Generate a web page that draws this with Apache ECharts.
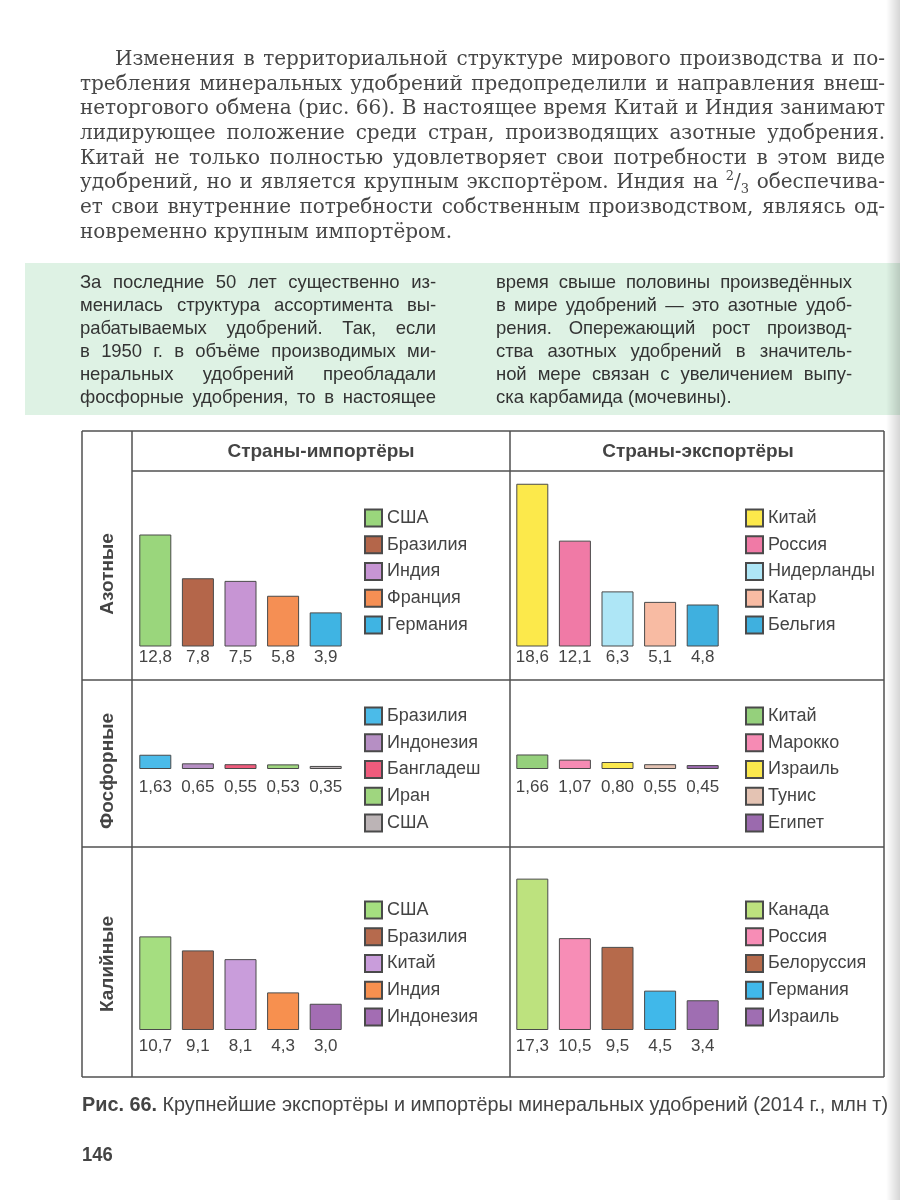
<!DOCTYPE html>
<html><head><meta charset="utf-8">
<script src="https://cdn.jsdelivr.net/npm/echarts@6/dist/echarts.min.js"></script>
<style>
html,body{margin:0;padding:0;background:#fff;}
body{width:900px;height:1200px;position:relative;overflow:hidden;}
#green{position:absolute;left:25px;top:263px;width:875px;height:152px;background:#def2e4;z-index:0;}
#chart{position:absolute;left:0;top:0;width:900px;height:1200px;z-index:1;}
.para{position:absolute;left:80px;top:46px;width:805px;font-family:'DejaVu Serif',serif;font-size:20px;color:#474747;z-index:2;}
.para div{height:24.7px;line-height:24.7px;text-align:justify;text-align-last:justify;}
.para div.first{margin-left:35px;}
.box{position:absolute;top:270px;width:356px;font-family:'Liberation Sans',Arial,sans-serif;font-size:18.5px;color:#333;z-index:2;}
.box div{height:23px;line-height:23px;text-align:justify;text-align-last:justify;}
.last{text-align-last:left !important;}
sup,sub{font-size:13px;line-height:0;}
</style></head>
<body>
<div id="green"></div>
<div id="chart"></div>
<div class="para">
<div class="first">Изменения в территориальной структуре мирового производства и по-</div>
<div>требления минеральных удобрений предопределили и направления внеш-</div>
<div>неторгового обмена (рис. 66). В настоящее время Китай и Индия занимают</div>
<div>лидирующее положение среди стран, производящих азотные удобрения.</div>
<div>Китай не только полностью удовлетворяет свои потребности в этом виде</div>
<div>удобрений, но и является крупным экспортёром. Индия на <sup>2</sup>/<sub>3</sub> обеспечива-</div>
<div>ет свои внутренние потребности собственным производством, являясь од-</div>
<div class="last">новременно крупным импортёром.</div>
</div>
<div class="box" style="left:80px;">
<div>За последние 50 лет существенно из-</div>
<div>менилась структура ассортимента вы-</div>
<div>рабатываемых удобрений. Так, если</div>
<div>в 1950 г. в объёме производимых ми-</div>
<div>неральных удобрений преобладали</div>
<div>фосфорные удобрения, то в настоящее</div>
</div>
<div class="box" style="left:496px;">
<div>время свыше половины произведённых</div>
<div>в мире удобрений — это азотные удоб-</div>
<div>рения. Опережающий рост производ-</div>
<div>ства азотных удобрений в значитель-</div>
<div>ной мере связан с увеличением выпу-</div>
<div class="last">ска карбамида (мочевины).</div>
</div>
<script>
// keep every printed line on one line: tighten letter-spacing where a line is too long
document.querySelectorAll('.para div, .box div').forEach(d => {
  const html = d.innerHTML;
  d.innerHTML = '<span style="white-space:nowrap">' + html + '</span>';
  const w = d.firstChild.getBoundingClientRect().width;
  const avail = d.clientWidth - 3;
  d.innerHTML = html;
  if (w > avail) {
    const n = d.textContent.length;
    d.style.letterSpacing = ((avail - w) / n) + 'px';
  }
});

// ---- data ----
const importerHeader = 'Страны-импортёры';
const exporterHeader = 'Страны-экспортёры';
const rowNames = ['Азотные', 'Фосфорные', 'Калийные'];

const nImpCountries = ['США', 'Бразилия', 'Индия', 'Франция', 'Германия'];
const nImpValues = [12.8, 7.8, 7.5, 5.8, 3.9];
const nExpCountries = ['Китай', 'Россия', 'Нидерланды', 'Катар', 'Бельгия'];
const nExpValues = [18.6, 12.1, 6.3, 5.1, 4.8];

const pImpCountries = ['Бразилия', 'Индонезия', 'Бангладеш', 'Иран', 'США'];
const pImpValues = [1.63, 0.65, 0.55, 0.53, 0.35];
const pExpCountries = ['Китай', 'Марокко', 'Израиль', 'Тунис', 'Египет'];
const pExpValues = [1.66, 1.07, 0.80, 0.55, 0.45];

const kImpCountries = ['США', 'Бразилия', 'Китай', 'Индия', 'Индонезия'];
const kImpValues = [10.7, 9.1, 8.1, 4.3, 3.0];
const kExpCountries = ['Канада', 'Россия', 'Белоруссия', 'Германия', 'Израиль'];
const kExpValues = [17.3, 10.5, 9.5, 4.5, 3.4];

const captionLabel = 'Рис. 66.';
const captionText = 'Крупнейшие экспортёры и импортёры минеральных удобрений (2014 г., млн т)';
const pageNumber = '146';

// ---- styles ----
const nImpColors = ['#9ad67c', '#b4664a', '#c795d4', '#f58f54', '#3fb4e3'];
const nExpColors = ['#fce94b', '#f07aa6', '#aee6f6', '#f8bba3', '#3fb0df'];
const pImpColors = ['#4bbbe9', '#b68fc4', '#ef5b7c', '#9fd67f', '#bcb4b6'];
const pExpColors = ['#95d07c', '#f68bb4', '#fbe84d', '#e4c3b3', '#9b6aae'];
const kImpColors = ['#a5de80', '#b66a4d', '#c99ddb', '#f7904f', '#a36db3'];
const kExpColors = ['#bde27e', '#f78db6', '#b66a4b', '#40b8ea', '#9f6eb2'];

const panels = [
  { c: nImpCountries, v: nImpValues, col: nImpColors, dec: 1, row: 0, side: 0 },
  { c: nExpCountries, v: nExpValues, col: nExpColors, dec: 1, row: 0, side: 1 },
  { c: pImpCountries, v: pImpValues, col: pImpColors, dec: 2, row: 1, side: 0 },
  { c: pExpCountries, v: pExpValues, col: pExpColors, dec: 2, row: 1, side: 1 },
  { c: kImpCountries, v: kImpValues, col: kImpColors, dec: 1, row: 2, side: 0 },
  { c: kExpCountries, v: kExpValues, col: kExpColors, dec: 1, row: 2, side: 1 }
];

const FONT = "'Liberation Sans', Arial, sans-serif";
const TXT = '#444';
const gridLeft = [134, 511];
const legendLeft = [364, 745];
const baseline = [646.5, 769, 1030];
const legendTop = [508.5, 706.5, 900.5];
const labelDist = [2, 10, 8];
const GH = 175, YMAX = 20;

const grid = [], xAxis = [], yAxis = [], series = [], legend = [];
panels.forEach((p, k) => {
  grid.push({ left: gridLeft[p.side], width: 213, top: baseline[p.row] - GH, height: GH, containLabel: false });
  xAxis.push({ type: 'category', gridIndex: k, data: p.c, show: false });
  yAxis.push({ type: 'value', gridIndex: k, min: 0, max: YMAX, show: false });
  const names = p.c.map(n => n + '#' + k);
  p.c.forEach((name, i) => {
    series.push({
      type: 'bar', name: names[i], xAxisIndex: k, yAxisIndex: k, stack: 's' + k,
      barWidth: 32,
      data: p.v.map((val, j) => (j === i ? val : '-')),
      itemStyle: { color: p.col[i], borderColor: '#4a4a4a', borderWidth: 1 },
      label: {
        show: true, position: 'bottom', distance: labelDist[p.row],
        fontFamily: FONT, fontSize: 17, color: TXT,
        formatter: q => (typeof q.value === 'number' ? q.value.toFixed(p.dec).replace('.', ',') : '')
      },
      emphasis: { disabled: true }
    });
  });
  legend.push({
    orient: 'vertical', left: legendLeft[p.side], top: legendTop[p.row],
    padding: 0, itemWidth: 17, itemHeight: 17, itemGap: 7.75, icon: 'rect',
    selectedMode: false, data: names,
    formatter: n => n.split('#')[0],
    textStyle: { fontFamily: FONT, fontSize: 18, color: TXT }
  });
});

// caption fitted to the printed line width
const mctx = document.createElement('canvas').getContext('2d');
mctx.font = "bold 20px 'Liberation Sans'";
const wBold = mctx.measureText(captionLabel + ' ').width;
mctx.font = "20px 'Liberation Sans'";
const wRest = mctx.measureText(captionText).width;
const capScale = 806 / (wBold + wRest);

// table frame
const L = 82, R = 884, T = 431, B = 1077, C1 = 132, MID = 510, HB = 471, R1 = 680, R2 = 847;
const lineStyle = { stroke: '#505050', lineWidth: 1.5 };
const seg = (x1, y1, x2, y2) => ({ type: 'line', shape: { x1, y1, x2, y2 }, style: lineStyle, silent: true });
const hdr = (text, x) => ({ type: 'text', x, y: 452, style: { text, fontFamily: FONT, fontSize: 19, fontWeight: 'bold', fill: TXT, textAlign: 'center', textVerticalAlign: 'middle' } });
const rowLbl = (text, y) => ({ type: 'text', x: 108, y, rotation: Math.PI / 2, style: { text, fontFamily: FONT, fontSize: 19, fontWeight: 'bold', fill: TXT, textAlign: 'center', textVerticalAlign: 'middle' } });
const graphic = [
  { type: 'rect', shape: { x: 886, y: 0, width: 14, height: 1200 }, silent: true,
    style: { fill: { type: 'linear', x: 0, y: 0, x2: 1, y2: 0, colorStops: [{ offset: 0, color: 'rgba(0,0,0,0)' }, { offset: 1, color: 'rgba(0,0,0,0.16)' }] } } },
  seg(L, T, R, T), seg(L, B, R, B), seg(L, T, L, B), seg(R, T, R, B),
  seg(C1, T, C1, B), seg(MID, T, MID, B), seg(C1, HB, R, HB), seg(L, R1, R, R1), seg(L, R2, R, R2),
  hdr(importerHeader, 321), hdr(exporterHeader, 698),
  rowLbl(rowNames[0], 574), rowLbl(rowNames[1], 771), rowLbl(rowNames[2], 964),
  { type: 'text', x: 82, y: 1105, scaleX: capScale, style: {
      text: '{b|' + captionLabel + '} ' + captionText, fontFamily: 'Liberation Sans', fontSize: 20, fill: TXT,
      textAlign: 'left', textVerticalAlign: 'middle',
      rich: { b: { fontFamily: 'Liberation Sans', fontSize: 20, fontWeight: 'bold', color: TXT } } } },
  { type: 'text', x: 82, y: 1155, scaleX: 0.92, style: { text: pageNumber, fontFamily: 'Liberation Sans', fontSize: 20, fontWeight: 'bold', fill: TXT, textAlign: 'left', textVerticalAlign: 'middle' } }
];

const chart = echarts.init(document.getElementById('chart'), null, { renderer: 'canvas' });
chart.setOption({
  backgroundColor: 'transparent',
  animation: false,
  tooltip: { show: false },
  grid, xAxis, yAxis, series, legend, graphic
});
</script>
</body></html>
